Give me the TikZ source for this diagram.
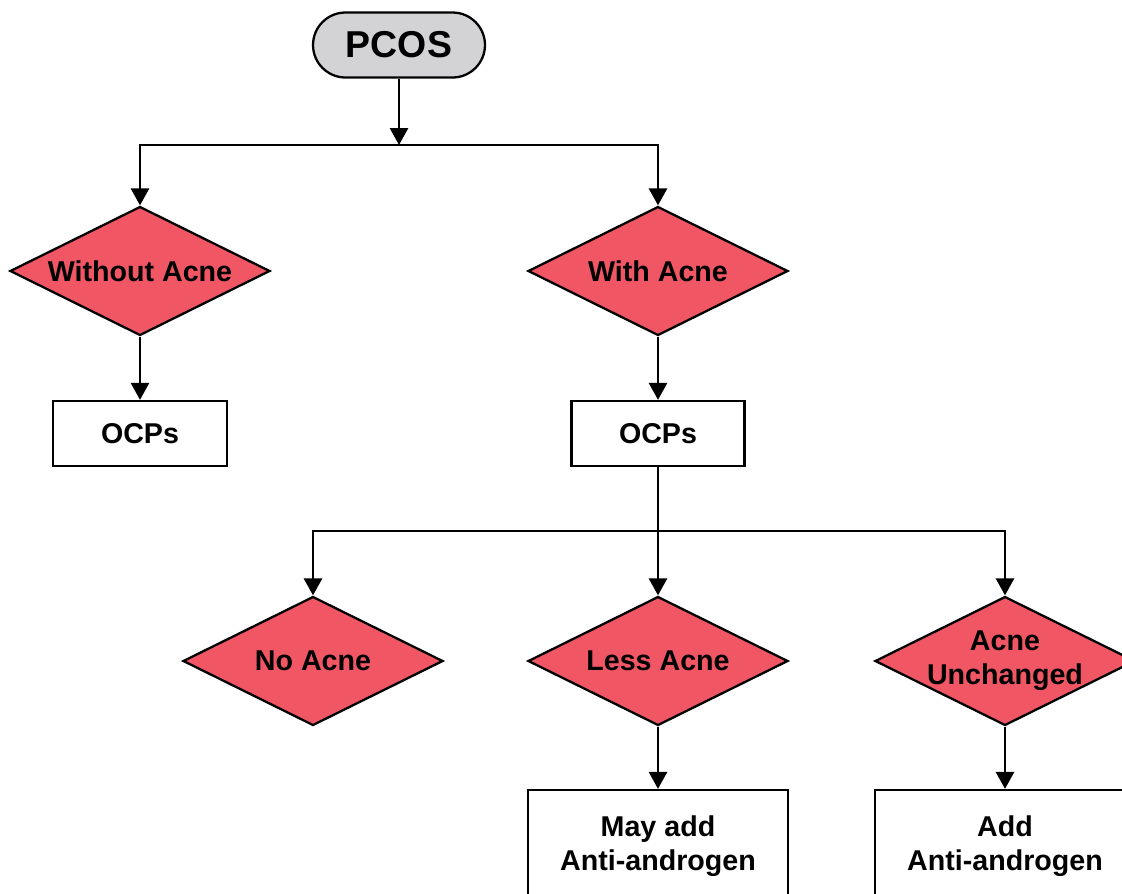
\documentclass[tikz,border=0pt]{standalone}
\usepackage{fontspec}
\setmainfont{Liberation Sans}
\usetikzlibrary{arrows.meta,shapes.geometric}
\definecolor{pcosgray}{RGB}{211,211,213}
\definecolor{acnered}{RGB}{241,86,101}

\begin{document}
\begin{tikzpicture}[x=0.02cm,y=-0.02cm,font=\bfseries\fontsize{16.3}{19.5}\selectfont,
  decide/.style={diamond,draw,line width=1.3pt,fill=acnered,inner sep=0pt,aspect=2,
    minimum width=5.2cm,minimum height=2.58cm,align=center},
  drug/.style={rectangle,draw,line width=1.3pt,fill=white,align=center},
  arr/.style={line width=1.6pt,-{Triangle[length=0.34cm,width=0.36cm]}}]
\clip (0,0) rectangle (1122,893);
% start
\node[draw,line width=1.3pt,fill=pcosgray,rounded corners=0.65cm,minimum width=3.44cm,
  minimum height=1.3cm,font=\bfseries\fontsize{21.3}{24}\selectfont] (pcos) at (399,45) {PCOS};
\coordinate (j1) at (399,145);
% first level
\node[decide] (woacne) at (140,271) {Without Acne};
\node[decide] (wacne) at (658,271) {With Acne};
\node[drug,minimum width=3.48cm,minimum height=1.3cm,text depth=0pt] (ocpsa) at (140,433.5) {OCPs};
\node[drug,minimum width=3.46cm,minimum height=1.3cm,text depth=0pt] (ocpsb) at (658,433.5) {OCPs};
\coordinate (j2) at (658,531);
% after OCPs
\node[decide] (noacne) at (313,661) {No Acne};
\node[decide] (lessacne) at (658,661) {Less Acne};
\node[decide,inner ysep=-8pt] (unchanged) at (1005,661) {Acne\\Unchanged};
\node[drug,minimum width=5.2cm,minimum height=2.24cm] (mayadd) at (658,846) {May add\\Anti-androgen};
\node[drug,minimum width=5.2cm,minimum height=2.24cm] (add) at (1005,846) {Add\\Anti-androgen};
% connectors
\draw[arr] (pcos) -- (j1);
\draw[arr] (j1) -| (woacne);
\draw[arr] (j1) -| (wacne);
\draw[arr] (woacne) -- (ocpsa);
\draw[arr] (wacne) -- (ocpsb);
\draw[arr] (ocpsb) -- (lessacne);
\draw[arr] (j2) -| (noacne);
\draw[arr] (j2) -| (unchanged);
\draw[arr] (lessacne) -- (mayadd);
\draw[arr] (unchanged) -- (add);
\end{tikzpicture}
\end{document}
